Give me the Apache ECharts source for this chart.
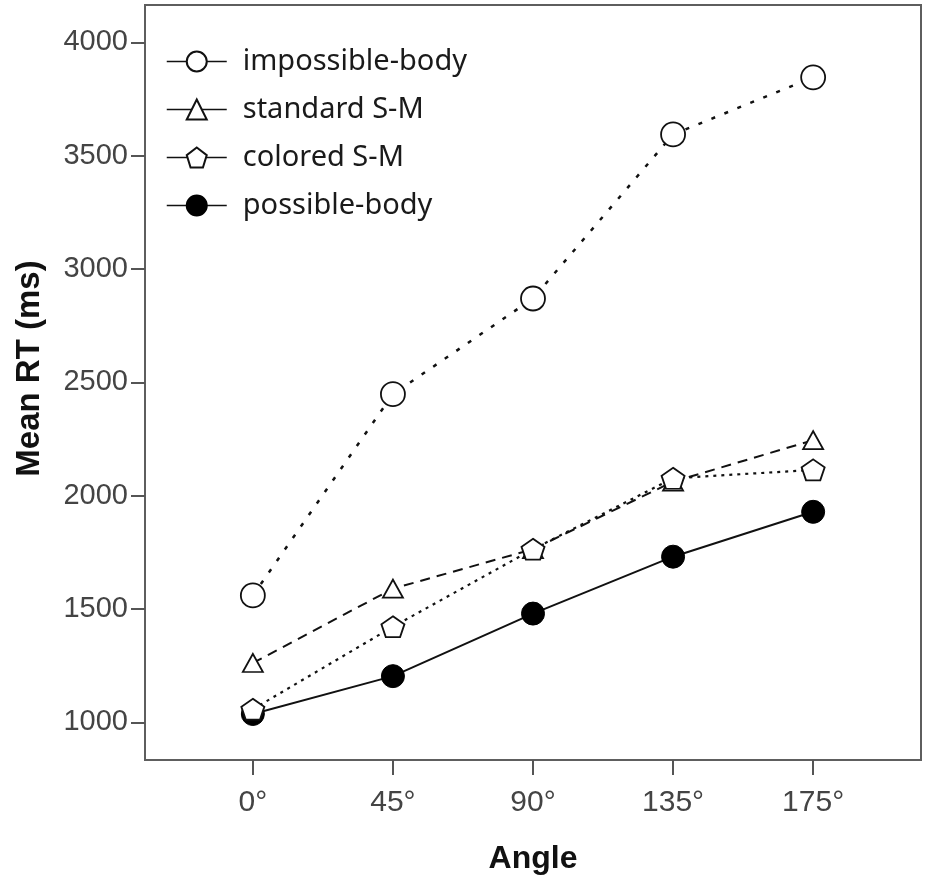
<!DOCTYPE html>
<html>
<head>
<meta charset="utf-8">
<script src="https://cdn.jsdelivr.net/npm/echarts@6/dist/echarts.min.js"></script>
<style>
  html, body { margin: 0; padding: 0; background: #fff; }
  #chart { width: 928px; height: 880px; }
</style>
</head>
<body>
<div id="chart"></div>
<script>
// angles (x categories), placed at index 0..4 on a value axis
const angleLabels = ["0°", "45°", "90°", "135°", "175°"];
const yTicks = [1000, 1500, 2000, 2500, 3000, 3500, 4000];

// mean RT (ms) per condition
const impossibleBody = [1560, 2448, 2870, 3594, 3846];
const standardSM = [1262, 1590, 1764, 2062, 2245];
const coloredSM = [1058, 1422, 1764, 2077, 2114];
const possibleBody = [1037, 1204, 1480, 1731, 1929];

const pentagon = "path://M0,-1 L0.951,-0.309 L0.588,0.809 L-0.588,0.809 L-0.951,-0.309 Z";

function pts(arr) {
  return arr.map((v, i) => [i, v]);
}

const chart = echarts.init(document.getElementById("chart"));

const openMarker = { color: "#fff", borderColor: "#111", borderWidth: 1.8 };

chart.setOption({
  backgroundColor: "#fff",
  animation: false,
  grid: {
    left: 145,
    right: 7,
    top: 5,
    bottom: 112,
    show: true,
    borderColor: "#5e5e5e",
    borderWidth: 2,
    backgroundColor: "#fff",
  },
  legend: {
    orient: "vertical",
    left: 161,
    top: 42,
    itemWidth: 60,
    itemHeight: 25,
    itemGap: 19,
    data: ["impossible-body", "standard S-M", "colored S-M", "possible-body"],
    lineStyle: { type: "solid", width: 1.5, color: "#111" },
    textStyle: {
      fontFamily: "Noto Sans",
      fontSize: 29,
      lineHeight: 25,
      color: "#1a1a1a",
      padding: [0, 0, 0, 11],
    },
  },
  xAxis: {
    type: "value",
    min: -0.77,
    max: 4.77,
    name: "Angle",
    nameLocation: "middle",
    nameGap: 83,
    nameTextStyle: {
      fontFamily: "Liberation Sans",
      fontWeight: "bold",
      fontSize: 32,
      color: "#111",
    },
    axisLine: { show: false, onZero: false },
    splitLine: { show: false },
    axisTick: {
      show: true,
      length: 15,
      customValues: [0, 1, 2, 3, 4],
      lineStyle: { color: "#555", width: 2 },
    },
    axisLabel: {
      customValues: [0, 1, 2, 3, 4],
      formatter: (v) => angleLabels[Math.round(v)],
      fontFamily: "Liberation Sans",
      fontSize: 30,
      color: "#444",
      margin: 28,
    },
  },
  yAxis: {
    type: "value",
    min: 834,
    max: 4165,
    name: "Mean RT (ms)",
    nameLocation: "middle",
    nameGap: 99,
    nameTextStyle: {
      fontFamily: "Liberation Sans",
      fontWeight: "bold",
      fontSize: 33,
      color: "#111",
      padding: [0, 0, 0, 28],
    },
    axisLine: { show: false, onZero: false },
    splitLine: { show: false },
    axisTick: {
      show: true,
      length: 14,
      customValues: yTicks,
      lineStyle: { color: "#555", width: 2 },
    },
    axisLabel: {
      customValues: yTicks,
      formatter: (v) => String(v),
      fontFamily: "Liberation Sans",
      fontSize: 29,
      color: "#444",
      margin: 17,
    },
  },
  series: [
    {
      name: "possible-body",
      type: "line",
      data: pts(possibleBody),
      symbol: "circle",
      symbolSize: 23,
      lineStyle: { color: "#111", width: 2, type: "solid" },
      itemStyle: { color: "#000", borderColor: "#000", borderWidth: 1 },
    },
    {
      name: "standard S-M",
      type: "line",
      data: pts(standardSM),
      symbol: "triangle",
      symbolSize: [20, 18],
      lineStyle: { color: "#111", width: 2, type: [10, 7] },
      itemStyle: openMarker,
    },
    {
      name: "colored S-M",
      type: "line",
      data: pts(coloredSM),
      symbol: pentagon,
      symbolSize: [23, 21],
      lineStyle: { color: "#111", width: 2.2, type: [3, 5] },
      itemStyle: openMarker,
    },
    {
      name: "impossible-body",
      type: "line",
      data: pts(impossibleBody),
      symbol: "circle",
      symbolSize: 24,
      lineStyle: { color: "#111", width: 2.5, type: [4, 10] },
      itemStyle: openMarker,
    },
  ],
});
</script>
</body>
</html>
